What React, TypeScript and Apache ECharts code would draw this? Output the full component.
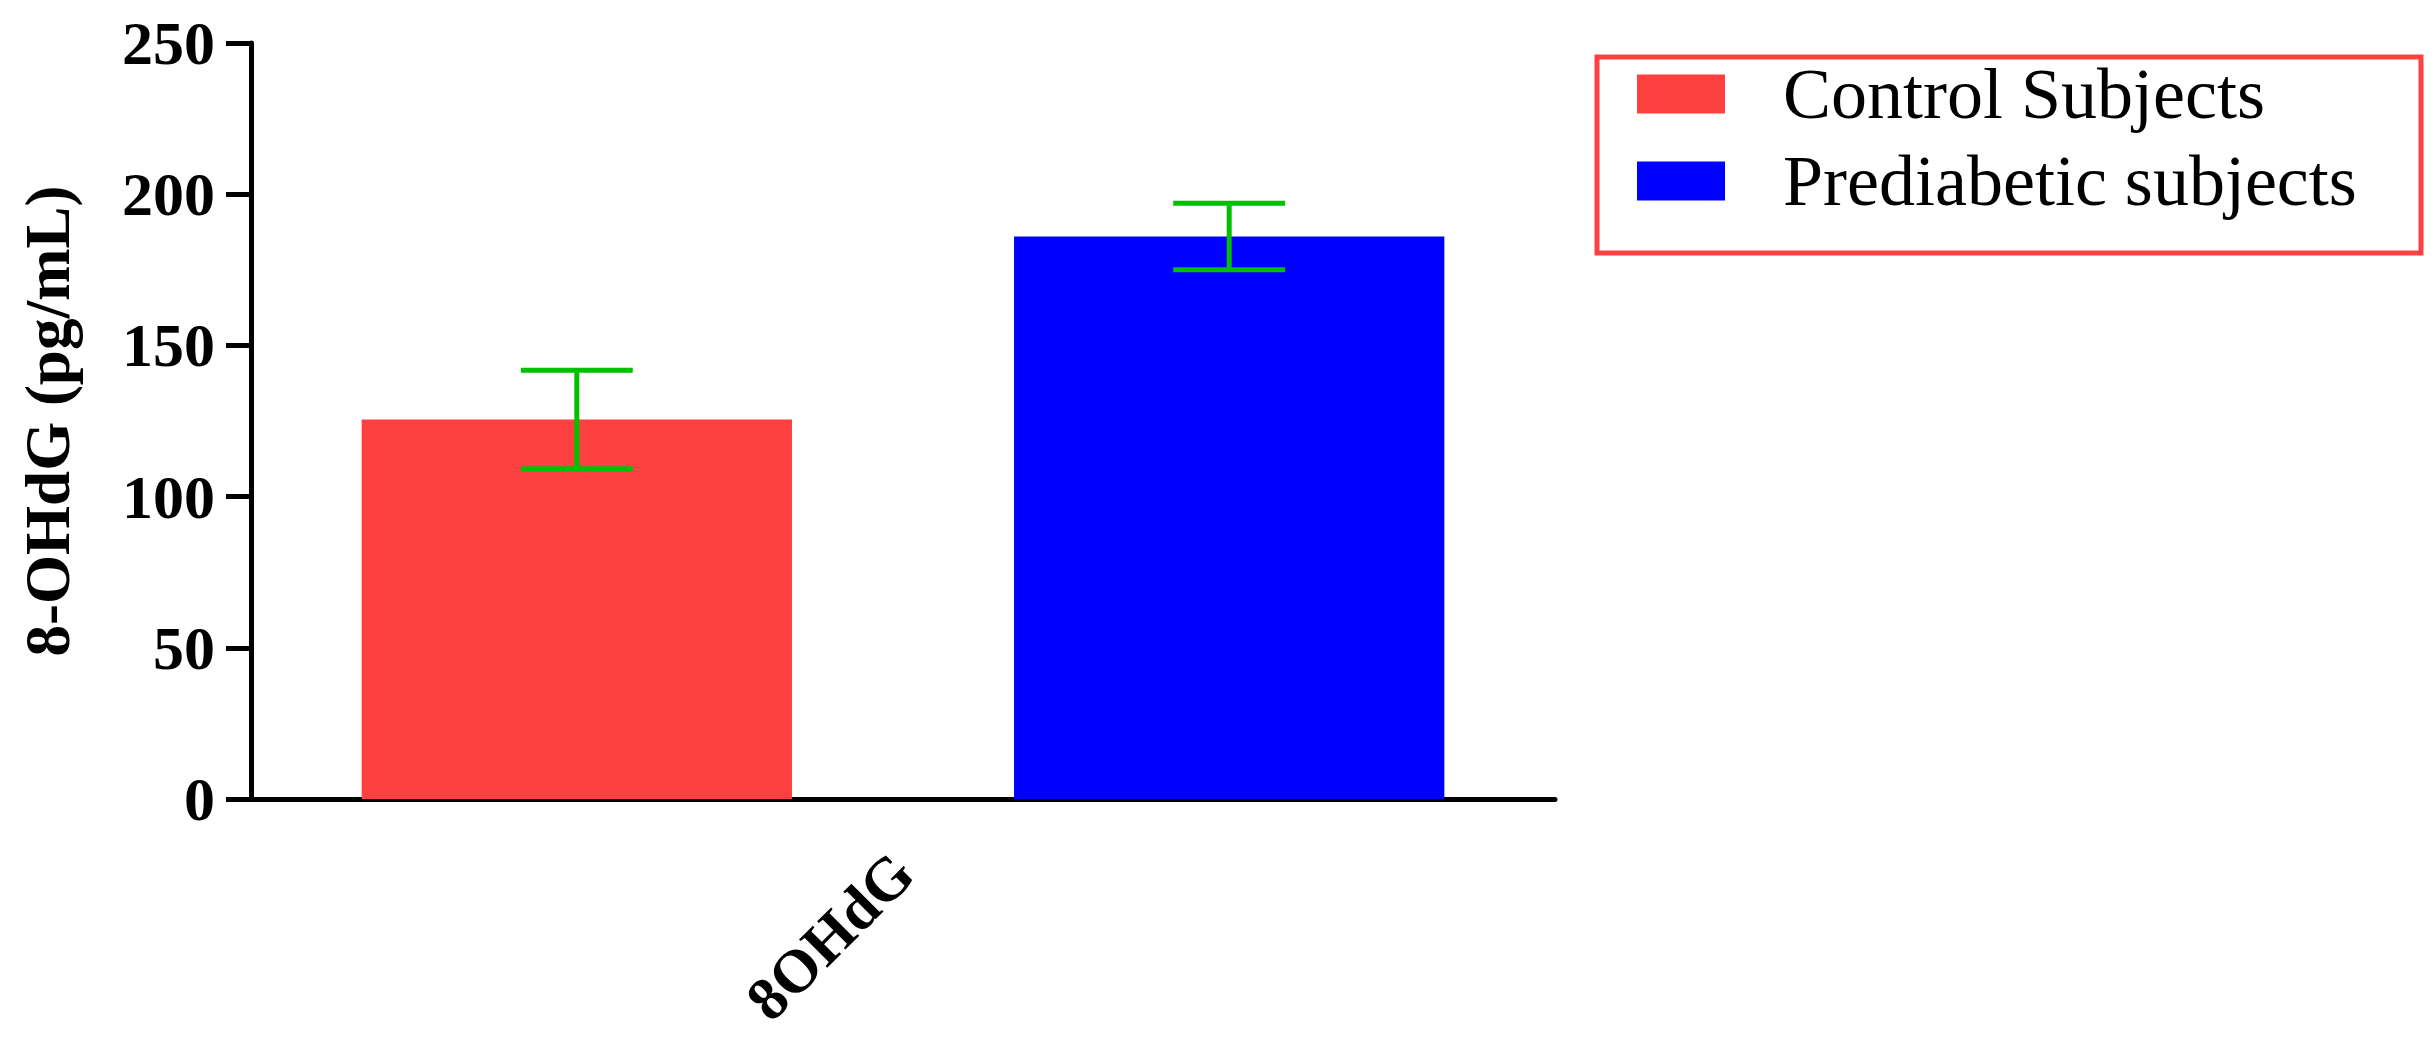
import React, { useEffect, useRef } from "react";
import * as echarts from "echarts";

const categories = ["8OHdG"];
const groupNames = ["Control Subjects", "Prediabetic subjects"];
const groupColors = ["#FF4040", "#0000FF"];
const meanValues = [125.5, 186];
const semValues = [16.3, 11];
const yTicks = { min: 0, max: 250, interval: 50 };
const yAxisTitle = "8-OHdG (pg/mL)";

const BAR_W = 0.33;
const BAR_GAP = 0.516;
const SERIF = "'Liberation Serif', 'Times New Roman', serif";

export default function App() {
  const ref = useRef<HTMLDivElement>(null);
  useEffect(() => {
    if (!ref.current) return;
    const chart = echarts.init(ref.current, null, { renderer: "svg" });
    const barSeries = groupNames.map((name, i) => ({
      name,
      type: "bar",
      data: [meanValues[i]],
      barWidth: BAR_W * 100 + "%",
      barGap: BAR_GAP * 100 + "%",
      itemStyle: { color: groupColors[i] },
      z: 2,
    }));
    const errSeries = groupNames.map((name, i) => ({
      name: name + " error",
      type: "custom",
      z: 5,
      data: [[0, meanValues[i] - semValues[i], meanValues[i] + semValues[i], i]],
      renderItem: (params: any, api: any) => {
        const band = api.size([1, 0])[0];
        const w = band * BAR_W;
        const off = (w + w * BAR_GAP) / 2;
        const sign = api.value(3) === 0 ? -1 : 1;
        const lo = api.coord([api.value(0), api.value(1)]);
        const hi = api.coord([api.value(0), api.value(2)]);
        const x = lo[0] + sign * off;
        const half = w * 0.13;
        const style = { stroke: "#00C000", lineWidth: 5 };
        return {
          type: "group",
          children: [
            { type: "line", shape: { x1: x, y1: lo[1], x2: x, y2: hi[1] }, style },
            { type: "line", shape: { x1: x - half, y1: lo[1], x2: x + half, y2: lo[1] }, style },
            { type: "line", shape: { x1: x - half, y1: hi[1], x2: x + half, y2: hi[1] }, style },
          ],
        };
      },
    }));
    chart.setOption({
      animation: false,
      backgroundColor: "#ffffff",
      grid: { left: 251, right: 879, top: 43, bottom: 240, containLabel: false },
      legend: {
        data: groupNames,
        orient: "vertical",
        left: 1637,
        top: 58,
        padding: 0,
        itemWidth: 88,
        itemHeight: 39,
        itemGap: 15,
        icon: "rect",
        selectedMode: false,
        textStyle: {
          fontFamily: SERIF,
          fontSize: 72,
          color: "#000",
          lineHeight: 72,
          padding: [0, 0, 0, 53],
        },
      },
      graphic: [
        {
          type: "rect",
          shape: { x: 1597, y: 57, width: 824, height: 196 },
          style: { fill: "none", stroke: "#FF4040", lineWidth: 5 },
        },
      ],
      xAxis: {
        type: "category",
        data: categories,
        axisLine: { lineStyle: { color: "#000", width: 5 } },
        axisTick: { alignWithLabel: true, length: 23, lineStyle: { color: "#000", width: 5 } },
        axisLabel: {
          rotate: 45,
          margin: 64,
          fontFamily: SERIF,
          fontWeight: "bold",
          fontSize: 61,
          color: "#000",
        },
      },
      yAxis: {
        type: "value",
        min: yTicks.min,
        max: yTicks.max,
        interval: yTicks.interval,
        name: yAxisTitle,
        nameLocation: "middle",
        nameGap: 172,
        nameTextStyle: {
          fontFamily: SERIF,
          fontWeight: "bold",
          fontSize: 63,
          color: "#000",
        },
        splitLine: { show: false },
        axisLine: { show: true, lineStyle: { color: "#000", width: 5 } },
        axisTick: { show: true, length: 25, lineStyle: { color: "#000", width: 5 } },
        axisLabel: {
          margin: 36,
          fontFamily: SERIF,
          fontWeight: "bold",
          fontSize: 62,
          color: "#000",
        },
      },
      series: [...barSeries, ...errSeries],
    });
    return () => chart.dispose();
  }, []);
  return (
    <div
      ref={ref}
      style={{ position: "absolute", left: 0, top: 0, width: 2434, height: 1039, background: "#fff" }}
    />
  );
}
